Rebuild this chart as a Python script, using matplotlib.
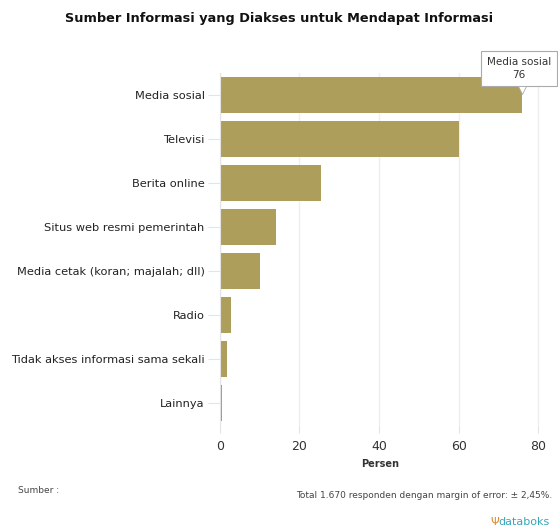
import matplotlib.pyplot as plt

categories = ['Media sosial', 'Televisi', 'Berita online', 'Situs web resmi pemerintah',
              'Media cetak (koran; majalah; dll)', 'Radio',
              'Tidak akses informasi sama sekali', 'Lainnya']
values = [76, 60, 25.4, 14.2, 10, 2.7, 1.8, 0.6]
xticks = [0, 20, 40, 60, 80]

BAR = '#ae9e5c'

fig = plt.figure(figsize=(5.58, 5.32), dpi=100)
ax = fig.add_axes([0.394, 0.201, 0.574, 0.662])

ypos = list(range(len(categories)))
ax.barh(ypos, values, height=0.8, color=BAR, zorder=2)
ax.set_yticks(ypos)
ax.set_yticklabels(categories, fontsize=8.2, color='#222222')
ax.set_ylim(7.5, -0.5)
ax.set_xlim(0, 80.5)
ax.set_xticks(xticks)
ax.set_xticklabels([str(v) for v in xticks], fontsize=9, color='#333333')
ax.tick_params(axis='y', length=9, color='#e4e4e4', pad=2)
ax.tick_params(axis='x', length=6, color='#e4e4e4', pad=5)
ax.grid(axis='x', color='#eeeeee', linewidth=1, zorder=0)
for s in ['top', 'right', 'bottom']:
    ax.spines[s].set_visible(False)
ax.spines['left'].set_color('#e4e4e4')
ax.set_xlabel('Persen', fontsize=7, fontweight='bold', color='#333333', labelpad=4)

fig.text(0.5, 0.966, 'Sumber Informasi yang Diakses untuk Mendapat Informasi',
         ha='center', va='center', fontsize=9.3, fontweight='bold', color='#111111')

# tooltip on the top bar
ax.text(values[0] - 0.8, -0.6, f'{categories[0]}\n{values[0]:g}', ha='center', va='center',
        fontsize=7.5, color='#333333', linespacing=1.4, zorder=5, clip_on=False,
        bbox=dict(boxstyle='square,pad=0.55', fc='white', ec='#aaaaaa', lw=0.8))
ax.plot([values[0]], [-0.11], marker='v', ms=6, mfc='white', mec='#aaaaaa', mew=0.6,
        zorder=6, clip_on=False)

fig.text(0.032, 0.078, 'Sumber :', fontsize=6.5, color='#444444', va='center')
fig.text(0.99, 0.068, 'Total 1.670 responden dengan margin of error: \u00b1 2,45%.',
         fontsize=6.5, color='#444444', ha='right', va='center')
fig.text(0.985, 0.018, 'databoks', fontsize=8, color='#3aa6b9', ha='right', va='center')
fig.text(0.895, 0.018, '\u03a8', fontsize=8, color='#e08a2a', ha='right', va='center')

fig.savefig('out.png', dpi=100)
